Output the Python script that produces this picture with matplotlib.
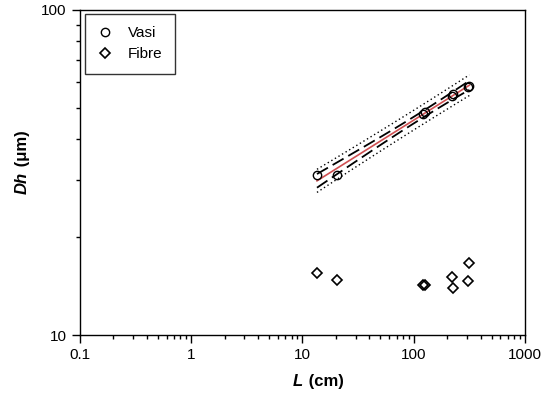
import numpy as np
import matplotlib
matplotlib.use('Agg')
import matplotlib.pyplot as plt
from matplotlib.ticker import LogLocator, NullFormatter, FixedLocator

plt.rcParams['font.family'] = ['Liberation Sans', 'DejaVu Sans']

# Values
L_cm = [13.5, 20.5, 120, 125, 222, 226, 310, 316]
dh_vasi = [31.0, 31.0, 48.0, 48.5, 54.5, 55.0, 58.0, 58.5]
dh_fibre = [15.5, 14.8, 14.3, 14.3, 15.1, 14.0, 14.7, 16.7]

# log-log linear fit of vessel diameter with confidence / prediction bands
x = np.log10(L_cm)
y = np.log10(dh_vasi)
n = len(x)
slope, icpt = np.polyfit(x, y, 1)
resid = y - (icpt + slope * x)
s = np.sqrt(np.sum(resid ** 2) / (n - 2))
t = 2.447  # t(0.975, 6)
xf = np.linspace(x.min(), x.max(), 100)
yf = icpt + slope * xf
sxx = np.sum((x - x.mean()) ** 2)
ci = t * s * np.sqrt(1 / n + (xf - x.mean()) ** 2 / sxx)
pi = t * s * np.sqrt(1 + 1 / n + (xf - x.mean()) ** 2 / sxx)

fig = plt.figure(figsize=(5.55, 3.99), dpi=100)
ax = fig.add_axes([0.144, 0.16, 0.802, 0.815])

Lf = 10 ** xf
ax.plot(Lf, 10 ** (yf + pi), color='black', lw=1, ls=(0, (1, 2)))
ax.plot(Lf, 10 ** (yf - pi), color='black', lw=1, ls=(0, (1, 2)))
ax.plot(Lf, 10 ** (yf + ci), color='black', lw=1.3, ls=(0, (7, 3)))
ax.plot(Lf, 10 ** (yf - ci), color='black', lw=1.3, ls=(0, (7, 3)))
ax.plot(Lf, 10 ** yf, color='#d05052', lw=1.2)

ax.plot(L_cm, dh_vasi, 'o', ls='none', mfc='none', mec='black', ms=6, mew=1, label='Vasi')
ax.plot(L_cm, dh_fibre, 'D', ls='none', mfc='none', mec='black', ms=4.6, mew=1.2, label='Fibre')

ax.set_xscale('log')
ax.set_yscale('log')
ax.set_xlim(0.1, 1000)
ax.set_ylim(10, 100)

ax.xaxis.set_major_locator(FixedLocator([0.1, 1, 10, 100, 1000]))
ax.set_xticklabels(['0.1', '1', '10', '100', '1000'])
ax.xaxis.set_minor_locator(LogLocator(base=10, subs=np.arange(2, 10), numticks=20))
ax.xaxis.set_minor_formatter(NullFormatter())
ax.yaxis.set_major_locator(FixedLocator([10, 100]))
ax.set_yticklabels(['10', '100'])
ax.yaxis.set_minor_locator(LogLocator(base=10, subs=np.arange(2, 10), numticks=20))
ax.yaxis.set_minor_formatter(NullFormatter())

ax.tick_params(which='both', direction='out', top=False, right=False, labelsize=11, width=1)
ax.tick_params(which='major', length=6)
ax.tick_params(which='minor', length=3)
for sp in ax.spines.values():
    sp.set_linewidth(1)

# axis titles: italic symbol + upright unit
fig.text(0.545, 0.045, 'L', fontsize=12, fontweight='bold', style='italic', ha='right', va='center')
fig.text(0.547, 0.045, ' (cm)', fontsize=12, fontweight='bold', ha='left', va='center')
fig.text(0.04, 0.57, 'Dh', fontsize=12, fontweight='bold', style='italic', rotation=90, ha='center', va='top')
fig.text(0.04, 0.572, ' (μm)', fontsize=12, fontweight='bold', rotation=90, ha='center', va='bottom')

leg = ax.legend(loc='upper left', bbox_to_anchor=(0.012, 0.987), borderaxespad=0, frameon=True,
                fancybox=False, edgecolor='black', fontsize=11, handlelength=1.0,
                handletextpad=1.0, borderpad=0.8, labelspacing=0.45)
leg.get_frame().set_linewidth(1)

fig.savefig('out.png', dpi=100)
